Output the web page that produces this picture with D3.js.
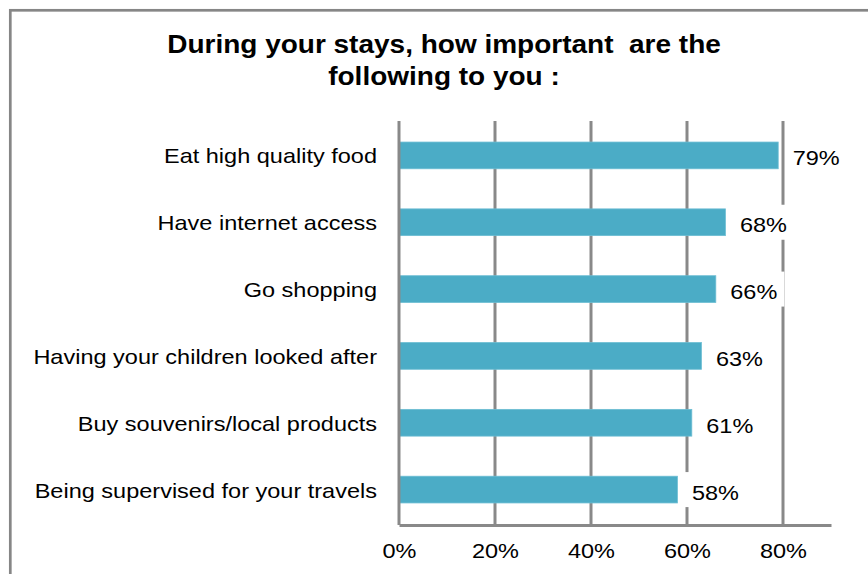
<!DOCTYPE html>
<html>
<head>
<meta charset="utf-8">
<script src="https://cdn.jsdelivr.net/npm/d3@7"></script>
<style>
  html, body { margin: 0; padding: 0; background: #fff; }
  svg { display: block; }
  text { font-family: "Liberation Sans", Arial, sans-serif; fill: #000; }
</style>
</head>
<body>
<svg id="chart" width="868" height="574"></svg>
<script>
// Survey answers, top to bottom
const categories = [
  "Eat high quality food",
  "Have internet access",
  "Go shopping",
  "Having your children looked after",
  "Buy souvenirs/local products",
  "Being supervised for your travels"
];
const values = [79, 68, 66, 63, 61, 58];
const tickValues = [0, 20, 40, 60, 80];
const titleLines = ["During your stays, how important  are the", "following to you :"];

const W = 868, H = 574;
const gridColor = "#898989";
const barColor = "#4bacc6";
const stretch = 1.12; // glyphs are drawn slightly wide

const svg = d3.select("#chart");

// outer frame (open toward the right and bottom edges)
svg.append("rect")
  .attr("x", 10.3).attr("y", 10.3)
  .attr("width", W + 20).attr("height", H + 20)
  .attr("fill", "#fff")
  .attr("stroke", "#868686")
  .attr("stroke-width", 2.7);

const x = d3.scaleLinear().domain([0, 90]).range([399, 831]);
const y = d3.scaleBand().domain(categories).range([122, 523])
  .paddingInner(0.6).paddingOuter(0.3);

const plotTop = 121, plotBottom = 525;

// title
const title = svg.append("g");
titleLines.forEach((line, i) => {
  title.append("g")
    .attr("transform", `translate(444,${53 + i * 32}) scale(${stretch},1)`)
    .append("text")
    .attr("text-anchor", "middle")
    .style("white-space", "pre")
    .attr("font-size", 25)
    .attr("font-weight", "bold")
    .text(line);
});

// vertical gridlines
svg.append("g")
  .selectAll("line")
  .data(tickValues.filter(d => d > 0))
  .join("line")
  .attr("x1", d => x(d)).attr("x2", d => x(d))
  .attr("y1", plotTop).attr("y2", plotBottom)
  .attr("stroke", gridColor)
  .attr("stroke-width", 3);

// bars
svg.append("g")
  .selectAll("rect")
  .data(categories)
  .join("rect")
  .attr("x", x(0))
  .attr("y", d => y(d))
  .attr("width", (d, i) => x(values[i]) - x(0))
  .attr("height", y.bandwidth())
  .attr("fill", barColor)
  .attr("stroke", "#6cbdd3")
  .attr("stroke-width", 0.8);

// vertical axis line
svg.append("line")
  .attr("x1", x(0)).attr("x2", x(0))
  .attr("y1", plotTop).attr("y2", plotBottom)
  .attr("stroke", gridColor)
  .attr("stroke-width", 3);

// bottom axis
const xAxis = d3.axisBottom(x)
  .tickValues(tickValues)
  .tickSize(0)
  .tickSizeOuter(0)
  .tickPadding(18)
  .tickFormat(d => d + "%");

const gx = svg.append("g")
  .attr("transform", `translate(0,${plotBottom})`)
  .call(xAxis);
gx.select(".domain").attr("stroke", gridColor).attr("stroke-width", 3);
gx.selectAll(".tick text")
  .attr("font-family", "Liberation Sans, Arial, sans-serif")
  .attr("font-size", 21)
  .attr("fill", "#000")
  .attr("transform", `scale(${stretch},1)`);

// category labels
svg.append("g")
  .selectAll("g")
  .data(categories)
  .join("g")
  .attr("transform", d => `translate(377,${y(d) + y.bandwidth() / 2 + 8}) scale(${stretch},1)`)
  .append("text")
  .attr("text-anchor", "end")
  .attr("font-size", 21)
  .text(d => d);

// value labels on white boxes
const labels = svg.append("g")
  .selectAll("g")
  .data(categories)
  .join("g")
  .attr("transform", (d, i) => `translate(${x(values[i]) + 14.5},${y(d) + y.bandwidth() / 2})`);

labels.append("rect").attr("class", "bg").attr("fill", "#fff");
labels.append("g")
  .attr("transform", `translate(0,10) scale(${stretch},1)`)
  .append("text")
  .attr("font-size", 21)
  .text((d, i) => values[i] + "%");

labels.each(function () {
  const g = d3.select(this);
  const w = g.select("text").node().getComputedTextLength() * stretch;
  g.select("rect.bg")
    .attr("x", -7).attr("y", -17.5)
    .attr("width", w + 14).attr("height", 35);
});
</script>
</body>
</html>
